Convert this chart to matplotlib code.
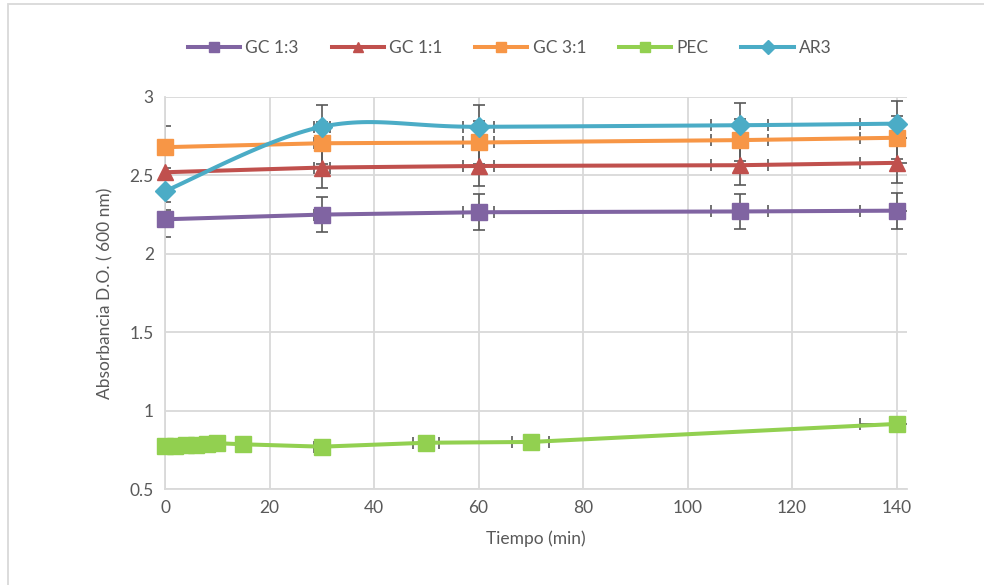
import numpy as np
import matplotlib.pyplot as plt
from matplotlib.patches import Rectangle

plt.rcParams['font.family'] = ['Lato', 'DejaVu Sans']

# data
t_gc = [0, 30, 60, 110, 140]
gc13 = [2.22, 2.25, 2.265, 2.27, 2.275]
gc11 = [2.52, 2.55, 2.56, 2.565, 2.58]
gc31 = [2.68, 2.705, 2.71, 2.725, 2.74]
ar3 = [2.40, 2.81, 2.81, 2.82, 2.83]
t_pec = [0, 2, 4, 6, 8, 10, 15, 30, 50, 70, 140]
pec = [0.775, 0.775, 0.778, 0.78, 0.788, 0.792, 0.785, 0.77, 0.795, 0.80, 0.915]

names = ['GC 1:3', 'GC 1:1', 'GC 3:1', 'PEC', 'AR3']
colors = ['#8064A2', '#C0504D', '#F79646', '#92D050', '#4BACC6']
markers = ['s', '^', 's', 's', 'D']
err_pct = 0.05  # 5% error bars on x and y


def smooth(x, y, n=30):
    # excel-like smoothed line (bezier through the points)
    x = np.asarray(x, float)
    y = np.asarray(y, float)
    px = np.concatenate([[x[0]], x, [x[-1]]])
    py = np.concatenate([[y[0]], y, [y[-1]]])
    xs, ys = [], []
    s = np.linspace(0, 1, n)
    for i in range(1, len(x)):
        p0 = np.array([px[i], py[i]])
        p3 = np.array([px[i + 1], py[i + 1]])
        p1 = p0 + (np.array([px[i + 1], py[i + 1]]) - np.array([px[i - 1], py[i - 1]])) / 6
        p2 = p3 - (np.array([px[i + 2], py[i + 2]]) - np.array([px[i], py[i]])) / 6
        b = ((1 - s) ** 3)[:, None] * p0 + (3 * (1 - s) ** 2 * s)[:, None] * p1 \
            + (3 * (1 - s) * s ** 2)[:, None] * p2 + (s ** 3)[:, None] * p3
        xs.extend(b[:, 0])
        ys.extend(b[:, 1])
    return xs, ys


fig = plt.figure(figsize=(9.84, 5.85), dpi=100)
ax = fig.add_axes([0.1677, 0.1641, 0.754, 0.6701])

series = [(t_gc, gc13), (t_gc, gc11), (t_gc, gc31), (t_pec, pec), (t_gc, ar3)]
for i, (xv, yv) in enumerate(series):
    xv = np.array(xv, float)
    yv = np.array(yv, float)
    ax.errorbar(xv, yv, xerr=xv * err_pct, yerr=yv * err_pct, fmt='none',
                ecolor='#595959', elinewidth=1.2, capsize=4.5, capthick=1.2, zorder=2)
    if names[i] == 'AR3':
        sx, sy = smooth(xv, yv)
        ax.plot(sx, sy, color=colors[i], lw=2.9, zorder=3, solid_capstyle='round', clip_on=False)
    else:
        ax.plot(xv, yv, color=colors[i], lw=2.9, zorder=3, solid_capstyle='round', clip_on=False)
    ms = 11 if markers[i] != 'D' else 10
    ax.plot(xv, yv, ls='none', marker=markers[i], ms=ms, color=colors[i], zorder=4, clip_on=False)
    ax.plot([], [], color=colors[i], lw=2.9, marker=markers[i], ms=7, label=names[i])

ax.set_xlim(0, 142)
ax.set_ylim(0.5, 3)
ax.set_xticks(np.arange(0, 141, 20))
ax.set_yticks([0.5, 1, 1.5, 2, 2.5, 3])
ax.set_yticklabels(['0.5', '1', '1.5', '2', '2.5', '3'])
ax.grid(True, color='#D9D9D9', lw=1.3)
ax.set_axisbelow(True)
for s in ['top', 'right']:
    ax.spines[s].set_visible(False)
for s in ['left', 'bottom']:
    ax.spines[s].set_color('#D9D9D9')
    ax.spines[s].set_linewidth(1.3)
ax.tick_params(length=0, labelsize=12.5, colors='#595959', pad=8)
ax.set_xlabel('Tiempo (min)', fontsize=12.5, color='#595959', labelpad=10)
ax.set_ylabel('Absorbancia D.O. ( 600 nm)', fontsize=12.5, color='#595959', labelpad=12)

ax.legend(loc='upper center', bbox_to_anchor=(0.518, 0.958), bbox_transform=fig.transFigure,
          ncol=5, frameon=False, fontsize=12.5, handlelength=3.0, columnspacing=1.9,
          labelcolor='#595959', handletextpad=0.3)

fig.patches.append(Rectangle((8 / 984, -0.01), 1.0, 1 - 4 / 585 + 0.01, transform=fig.transFigure,
                             fill=False, edgecolor='#D9D9D9', lw=1.3))

plt.savefig('out.png', dpi=100)
